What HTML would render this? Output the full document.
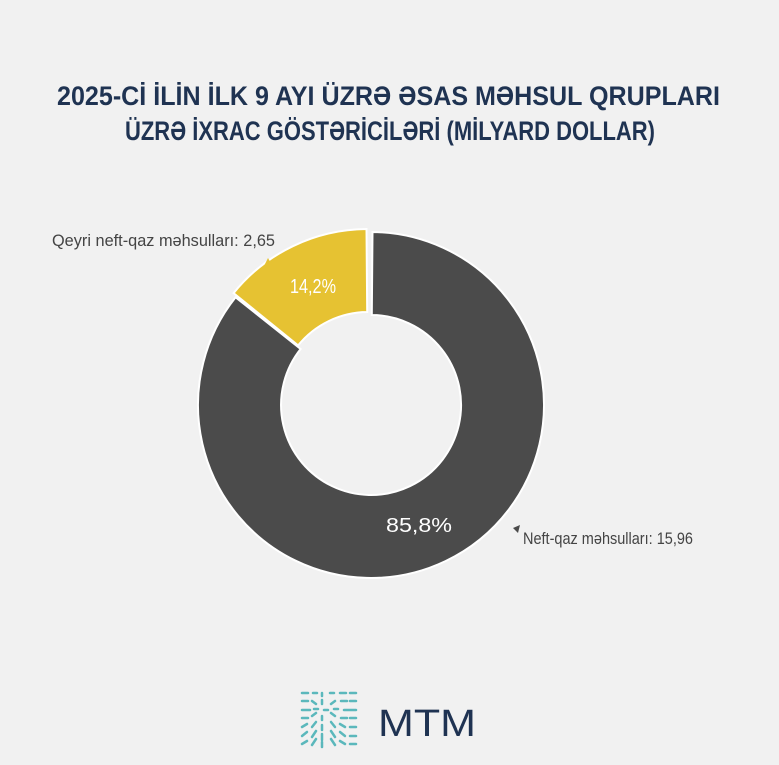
<!DOCTYPE html>
<html><head><meta charset="utf-8"><style>
html,body{margin:0;padding:0;background:#f2f2f2;}
svg{display:block}
</style></head><body>
<svg width="779" height="765" viewBox="0 0 779 765" xmlns="http://www.w3.org/2000/svg">
<rect width="779" height="765" fill="#f1f1f1"/>
<g font-family="Liberation Sans, sans-serif" font-weight="bold" fill="#1f3352" font-size="27">
<text x="57" y="105" textLength="663" lengthAdjust="spacingAndGlyphs">2025-Cİ İLİN İLK 9 AYI ÜZRƏ ƏSAS MƏHSUL QRUPLARI</text>
<text x="125" y="140" textLength="530" lengthAdjust="spacingAndGlyphs">ÜZRƏ İXRAC GÖSTƏRİCİLƏRİ (MİLYARD DOLLAR)</text>
</g>
<path d="M372.5,232 A173,173 0 1 1 235.6,297.3 L300.6,349 A90,90 0 1 0 371.8,315 Z" fill="#4b4b4b" stroke="#fff" stroke-width="2"/>
<path d="M233.6,293.1 A173,173 0 0 1 366.5,229 L367.2,312 A90,90 0 0 0 298.1,345.4 Z" fill="#e6c232" stroke="#fff" stroke-width="2"/>
<g font-family="Liberation Sans, sans-serif" font-size="17">
<text x="52" y="246" fill="#444" textLength="223" lengthAdjust="spacingAndGlyphs">Qeyri neft-qaz məhsulları: 2,65</text>
<text x="523" y="544" fill="#444" textLength="170" lengthAdjust="spacingAndGlyphs">Neft-qaz məhsulları: 15,96</text>
<text x="290" y="293" fill="#fff" font-size="20" textLength="46" lengthAdjust="spacingAndGlyphs">14,2%</text>
<text x="386" y="532" fill="#fff" font-size="20" textLength="66" lengthAdjust="spacingAndGlyphs">85,8%</text>
</g>
<path d="M268,258 L272,265 L264,266 Z" fill="#e6c232"/>
<path d="M520,525 L513,528 L518,533 Z" fill="#4b4b4b"/>
<g stroke="#5bb8bc" stroke-width="2.5" stroke-linecap="round">
<path d="M302,693h6M313,693h4M322,693v3M330,693h4M340,693h6M350,693h6M302,701h6M312,701l4,3M322,700v4M331,704l4,-3M341,701h6M350,701h6M302,710h8M314,709h4M324,710h4M334,709h4M344,710h8M352,710h4M302,718h6M312,716l4,-3M322,716v4M331,713l4,3M341,718h6M350,718h6M302,727l5,-3M312,727l4,-5M322,725v5M331,722l4,5M340,724l5,3M350,727h6M302,736l5,-4M312,737l4,-6M322,734v6M331,731l4,6M340,732l5,4M350,736h6M302,744l5,-3M312,745l4,-6M322,742v5M331,739l4,6M340,741l5,3M350,744h6"/>
</g>
<text x="378" y="736" font-family="Liberation Sans, sans-serif" font-size="38" fill="#1f3352" textLength="98" lengthAdjust="spacingAndGlyphs">MTM</text>
</svg>
</body></html>
